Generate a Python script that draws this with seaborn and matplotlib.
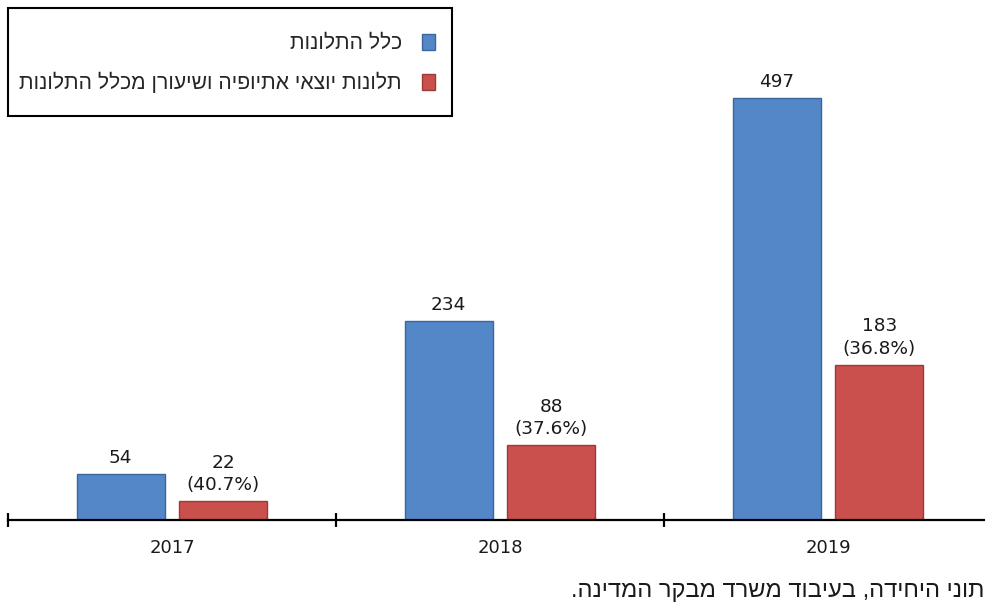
import matplotlib.pyplot as plt
import seaborn as sns
import pandas as pd
from matplotlib.patches import Rectangle


# data
years = ['2017', '2018', '2019']
total_complaints = [54, 234, 497]
ethiopian_complaints = [22, 88, 183]

series_names = ['כלל התלונות', 'תלונות יוצאי אתיופיה ושיעורן מכלל התלונות']
# the source line is cropped at the right edge in the original
source_note = 'תוני היחידה, בעיבוד משרד מבקר המדינה.'

colors = ['#5387C8', '#C9504D']
edges = ['#3B679E', '#9C3A37']

heb_font = ['Liberation Sans', 'DejaVu Sans']


def rtl(s):
    # matplotlib has no bidi support, so lay Hebrew out in visual order
    return s[::-1]


df = pd.DataFrame({
    'year': years * 2,
    'value': total_complaints + ethiopian_complaints,
    'series': [rtl(series_names[0])] * 3 + [rtl(series_names[1])] * 3,
})

sns.set_theme(style='white')
plt.rcParams['font.family'] = ['DejaVu Sans']

W, H = 985, 603
fig = plt.figure(figsize=(W / 100, H / 100), dpi=100)

px_per_unit = 422 / 497
ymax = 600
ax = fig.add_axes([8 / W, 1 - 520 / H, 984 / W, ymax * px_per_unit / H])

sns.barplot(data=df, x='year', y='value', hue='series', order=years,
            hue_order=[rtl(n) for n in series_names], palette=colors,
            saturation=1, width=0.625, gap=0.14, ax=ax, legend=True)

for cont, ec in zip(ax.containers, edges):
    for bar in cont:
        bar.set_edgecolor(ec)
        bar.set_linewidth(1.0)

# value labels
ax.bar_label(ax.containers[0], labels=[str(v) for v in total_complaints],
             padding=5, fontsize=13.3, color='#1a1a1a')
pct_labels = [f'{e}\n({e / t * 100:.1f}%)' for e, t in zip(ethiopian_complaints, total_complaints)]
ax.bar_label(ax.containers[1], labels=pct_labels, padding=5, fontsize=13.3,
             color='#1a1a1a', linespacing=1.3)

ax.set_xlim(-0.5, 2.5)
ax.set_ylim(0, ymax)
ax.set_xlabel('')
ax.set_ylabel('')
ax.set_yticks([])

for side in ['left', 'top', 'right']:
    ax.spines[side].set_visible(False)
ax.spines['bottom'].set_color('black')
ax.spines['bottom'].set_linewidth(1.6)

ax.set_xticks([0, 1, 2])
ax.set_xticklabels(years, fontsize=13, color='#1a1a1a')
ax.tick_params(axis='x', which='major', length=0, pad=14)
ax.set_xticks([-0.5, 0.5, 1.5, 2.5], minor=True)
ax.tick_params(axis='x', which='minor', direction='inout', length=10,
               width=1.6, color='black', bottom=True)

# legend: entries right-aligned with the key on the right, framed by a box
handles, labels = ax.get_legend_handles_labels()
ax.get_legend().remove()
leg = fig.legend(handles, labels, loc='upper right',
                 bbox_to_anchor=(435 / W, 1 - 34 / H), bbox_transform=fig.transFigure,
                 borderaxespad=0, borderpad=0, markerfirst=False, frameon=False,
                 prop={'family': heb_font, 'size': 15.2},
                 handlelength=0.62, handleheight=0.8,
                 labelspacing=0.88, handletextpad=0.95)
for h, ec in zip(leg.legend_handles, edges):
    h.set_edgecolor(ec)

fig.patches.append(Rectangle((8 / W, 1 - 116 / H), 444 / W, 108 / H,
                             transform=fig.transFigure, fill=False,
                             edgecolor='black', linewidth=1.5, zorder=5))

fig.text(984 / W, 1 - 591 / H, rtl(source_note), ha='right', va='center',
         fontsize=17, family=heb_font, color='#1a1a1a')

fig.savefig('out.png', dpi=100)
